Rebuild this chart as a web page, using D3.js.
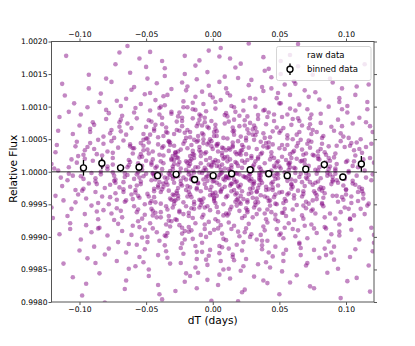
<!DOCTYPE html>
<html>
<head>
<meta charset="utf-8">
<script src="https://cdn.jsdelivr.net/npm/d3@7"></script>
<style>body{margin:0;background:#fff}</style>
</head>
<body>
<svg id="chart"></svg>
<script>
// raw data: dT in units of 0.001 day, flux offset from 1 in units of 1e-5
const rawT = [
-121,-118,-115,-112,-119,-116,-113,-110,-120,-117,-114,-111,-121,-118,-115,-112,-116,-113,
-109,-106,-103,-100,-108,-105,-102,-107,-104,-101,-109,-106,-103,-100,-108,-105,-102,-107,-104,-101,-105,-103,-108,
-99,-96,-93,-90,-98,-95,-92,-97,-94,-91,-99,-96,-93,-90,-98,-95,-92,-97,-94,-91,-96,-93,-99,-91,-94,-97,-92,-95,-98,
-89,-86,-83,-80,-88,-85,-82,-87,-84,-81,-89,-86,-83,-80,-88,-85,-82,-87,-84,-81,-89,-86,-83,-80,-88,-85,-82,-87,-84,-81,-86,-83,-88,
-79,-76,-73,-70,-78,-75,-72,-77,-74,-71,-79,-76,-73,-70,-78,-75,-72,-77,-74,-71,-79,-76,-73,-70,-78,-75,-72,-77,-74,-71,-79,-76,-73,-70,-78,-75,-72,-74,
-69,-66,-63,-60,-68,-65,-62,-67,-64,-61,-69,-66,-63,-60,-68,-65,-62,-67,-64,-61,-69,-66,-63,-60,-68,-65,-62,-67,-64,-61,-69,-66,-63,-60,-68,-65,-62,-67,-64,-61,-65,-62,
-59,-56,-53,-50,-58,-55,-52,-57,-54,-51,-59,-56,-53,-50,-58,-55,-52,-57,-54,-51,-59,-56,-53,-50,-58,-55,-52,-57,-54,-51,-59,-56,-53,-50,-58,-55,-52,-57,-54,-51,-59,-56,-53,-50,-58,-55,-52,-57,-54,-51,-55,-52,
-49,-46,-43,-40,-48,-45,-42,-47,-44,-41,-49,-46,-43,-40,-48,-45,-42,-47,-44,-41,-49,-46,-43,-40,-48,-45,-42,-47,-44,-41,-49,-46,-43,-40,-48,-45,-42,-47,-44,-41,-49,-46,-43,-40,-48,-45,-42,-47,-44,-41,-49,-46,-43,-40,-48,-45,-42,-47,-44,-41,-45,
-39,-36,-33,-30,-38,-35,-32,-37,-34,-31,-39,-36,-33,-30,-38,-35,-32,-37,-34,-31,-39,-36,-33,-30,-38,-35,-32,-37,-34,-31,-39,-36,-33,-30,-38,-35,-32,-37,-34,-31,-39,-36,-33,-30,-38,-35,-32,-37,-34,-31,-39,-36,-33,-30,-38,-35,-32,-37,-34,-31,-39,-36,-33,-30,-38,-35,-32,-37,-34,-31,
-29,-26,-23,-20,-28,-25,-22,-27,-24,-21,-29,-26,-23,-20,-28,-25,-22,-27,-24,-21,-29,-26,-23,-20,-28,-25,-22,-27,-24,-21,-29,-26,-23,-20,-28,-25,-22,-27,-24,-21,-29,-26,-23,-20,-28,-25,-22,-27,-24,-21,-29,-26,-23,-20,-28,-25,-22,-27,-24,-21,-29,-26,-23,-20,-28,-25,-22,-27,-24,-21,-29,-26,-23,-20,-28,
-19,-16,-13,-10,-18,-15,-12,-17,-14,-11,-19,-16,-13,-10,-18,-15,-12,-17,-14,-11,-19,-16,-13,-10,-18,-15,-12,-17,-14,-11,-19,-16,-13,-10,-18,-15,-12,-17,-14,-11,-19,-16,-13,-10,-18,-15,-12,-17,-14,-11,-19,-16,-13,-10,-18,-15,-12,-17,-14,-11,-19,-16,-13,-10,-18,-15,-12,-17,-14,-11,-19,-16,-13,-10,-18,-15,-12,-17,-14,
-9,-6,-3,0,-8,-5,-2,-7,-4,-1,-9,-6,-3,0,-8,-5,-2,-7,-4,-1,-9,-6,-3,0,-8,-5,-2,-7,-4,-1,-9,-6,-3,0,-8,-5,-2,-7,-4,-1,-9,-6,-3,0,-8,-5,-2,-7,-4,-1,-9,-6,-3,0,-8,-5,-2,-7,-4,-1,-9,-6,-3,0,-8,-5,-2,-7,-4,-1,-9,-6,-3,-8,-5,-2,-7,-4,-1,
1,4,7,10,2,5,8,3,6,9,1,4,7,10,2,5,8,3,6,9,1,4,7,10,2,5,8,3,6,9,1,4,7,10,2,5,8,3,6,9,1,4,7,10,2,5,8,3,6,9,1,4,7,10,2,5,8,3,6,9,1,4,7,10,2,5,8,3,6,9,1,4,7,10,2,5,8,3,6,
11,14,17,20,12,15,18,13,16,19,11,14,17,20,12,15,18,13,16,19,11,14,17,20,12,15,18,13,16,19,11,14,17,20,12,15,18,13,16,19,11,14,17,20,12,15,18,13,16,19,11,14,17,20,12,15,18,13,16,19,11,14,17,20,12,15,18,13,16,19,11,14,17,20,12,15,18,13,16,
21,24,27,30,22,25,28,23,26,29,21,24,27,30,22,25,28,23,26,29,21,24,27,30,22,25,28,23,26,29,21,24,27,30,22,25,28,23,26,29,21,24,27,30,22,25,28,23,26,29,21,24,27,30,22,25,28,23,26,29,21,24,27,30,22,25,28,23,26,29,21,24,27,30,22,
31,34,37,40,32,35,38,33,36,39,31,34,37,40,32,35,38,33,36,39,31,34,37,40,32,35,38,33,36,39,31,34,37,40,32,35,38,33,36,39,31,34,37,40,32,35,38,33,36,39,31,34,37,40,32,35,38,33,36,39,31,34,37,40,32,35,38,33,36,39,
41,44,47,50,42,45,48,43,46,49,41,44,47,50,42,45,48,43,46,49,41,44,47,50,42,45,48,43,46,49,41,44,47,50,42,45,48,43,46,49,41,44,47,50,42,45,48,43,46,49,41,44,47,50,42,45,48,43,46,49,41,44,47,50,42,
51,54,57,60,52,55,58,53,56,59,51,54,57,60,52,55,58,53,56,59,51,54,57,60,52,55,58,53,56,59,51,54,57,60,52,55,58,53,56,59,51,54,57,60,52,55,58,53,56,59,51,54,57,60,52,55,58,53,56,59,55,
61,64,67,70,62,65,68,63,66,69,61,64,67,70,62,65,68,63,66,69,61,64,67,70,62,65,68,63,66,69,61,64,67,70,62,65,68,63,66,69,61,64,67,70,62,65,68,63,66,69,61,64,67,70,62,65,
71,74,77,80,72,75,78,73,76,79,71,74,77,80,72,75,78,73,76,79,71,74,77,80,72,75,78,73,76,79,71,74,77,80,72,75,78,73,76,79,71,74,77,80,72,75,78,73,76,79,75,72,
81,84,87,90,82,85,88,83,86,89,81,84,87,90,82,85,88,83,86,89,81,84,87,90,82,85,88,83,86,89,81,84,87,90,82,85,88,83,86,89,81,84,87,90,82,85,88,
91,94,97,100,92,95,98,93,96,99,91,94,97,100,92,95,98,93,96,99,91,94,97,100,92,95,98,93,96,99,91,94,97,100,92,95,98,93,96,99,95,92,
101,104,107,110,102,105,108,103,106,109,101,104,107,110,102,105,108,103,106,109,101,104,107,110,102,105,108,103,106,109,101,104,107,110,102,105,108,103,
111,114,117,120,112,115,118,113,116,119,121,111,114,117,120,112,115,118,113,116,119,121,111,114,117,120,112,115,118,113,116,119,121
];
const rawF = [
12,-37,84,-141,5,63,-22,178,-71,41,-9,117,-55,30,-96,-44,2,135,-68,19,
-28,71,-3,-162,46,-88,105,24,-13,-57,39,-121,92,-6,14,-79,211,-35,58,-47,
7,-104,33,-18,76,-190,-41,61,26,-133,-2,88,-65,149,17,-29,-82,44,-11,99,
-52,20,128,-7,-93,38,-26,66,-172,3,-115,49,-38,81,-15,107,-59,27,-4,-201,
35,-73,9,143,-31,-86,54,-19,0,-127,72,-48,16,95,-10,-156,43,-61,120,-25,
-87,25,-140,8,64,-33,183,-50,-1,109,-20,-74,37,-98,47,-12,76,-118,21,-43,
59,-6,-108,31,-64,165,-24,90,11,-137,-39,52,-80,4,138,-17,69,-225,29,-56,
-14,101,-46,18,-83,6,-167,42,-31,74,126,-60,-8,-111,36,-91,57,15,-27,193,
-35,80,-2,-149,28,-70,112,-23,48,-5,-97,62,-180,10,-42,86,-124,39,-16,7,
67,-44,152,-11,-76,23,-3,98,-131,40,-62,-19,119,-53,13,-101,51,-32,174,-7,
-21,44,-89,130,-37,3,69,-145,-9,58,-112,27,-50,91,-1,-72,17,205,-40,33,
82,-15,-119,36,-58,9,161,-28,-85,49,-4,104,-66,22,-139,-34,77,-12,-188,45,
-3,-70,121,-26,53,-100,14,-47,88,-160,31,-8,-79,66,-21,143,-57,6,98,-38,
19,-93,57,-6,-128,34,-45,110,-16,79,-67,-2,184,-30,42,-108,11,-63,26,-150,
-60,8,94,-39,-174,51,-13,72,-106,28,-2,136,-48,63,-24,-87,16,-215,47,-11,
37,-53,-5,116,-94,20,-31,159,-68,4,83,-122,41,-18,60,-43,100,-9,-75,24,
-27,68,-141,13,-58,92,-4,-113,46,-35,170,-81,1,55,-20,127,-49,-98,32,-7,
73,-16,-84,39,-132,18,-62,102,-29,8,-196,61,-41,25,-10,89,-70,147,-3,-55,
4,-99,45,-23,118,-76,12,-37,83,-156,30,-1,-65,64,-14,178,-45,21,-110,52,
-44,15,-126,77,-19,-91,40,-7,137,-53,26,-82,99,-33,5,-169,58,-25,70,-12,
29,-60,108,-2,-117,47,-36,85,-21,16,-183,63,-9,-74,34,150,-50,11,-95,-28,
-8,91,-47,22,-140,60,-17,31,-86,125,-5,-62,43,-30,207,-104,18,-41,78,3,
-73,36,-12,163,-55,9,-103,70,-24,49,-155,14,-39,95,-1,-68,27,-134,53,-15,
48,-22,-90,115,-43,0,82,-179,24,-57,7,131,-11,-79,38,-31,96,-123,17,-46,
-17,64,-6,-147,33,-85,106,-27,12,-50,74,-208,41,-13,88,-63,2,142,-35,21,
55,-38,19,-114,80,-4,-71,46,-160,26,-18,99,-56,7,171,-92,32,-25,61,-1,
-30,76,-129,15,-47,3,118,-66,42,-10,-97,28,186,-36,59,-8,-120,44,-53,10,
86,-19,-77,35,-2,-135,50,-41,153,-23,13,-88,67,-6,-109,30,-59,104,-14,39,
-51,6,132,-33,71,-100,21,-12,-166,47,-44,83,-3,114,-70,18,-28,57,-143,8,
24,-81,45,-15,-123,93,-36,2,69,-198,30,-55,11,123,-25,-94,50,-7,78,-40,
-9,37,-64,107,-20,-150,55,-3,87,-42,16,-116,33,-73,177,-11,62,-31,5,-89,
43,-26,-105,18,138,-50,9,-82,74,-14,-174,29,-39,97,-5,-67,40,-137,22,61,
-62,11,90,-32,-125,52,-17,3,146,-45,-87,25,-8,72,-114,36,-54,190,-23,14,
31,-95,-7,66,-158,20,-37,110,-13,55,-76,-1,128,-48,8,-103,42,-29,85,-19,
-35,70,-10,-131,27,-58,99,-22,16,-88,160,-4,-64,38,-43,117,-12,-199,51,6,
15,-47,77,-6,-112,34,-28,144,-67,10,-16,86,-149,45,-33,1,63,-92,23,-54,
92,-24,-78,40,-3,-164,57,-41,121,-18,30,-99,4,68,-52,19,-136,47,-9,-30,
-46,28,-118,62,-15,174,-83,9,-37,101,-2,-60,36,-127,13,-21,80,-49,212,-6,
3,-71,48,-26,-145,85,-11,32,-93,133,-40,17,-56,0,-108,65,-32,26,-181,59,
-19,41,-87,113,-7,-59,24,-152,71,-34,8,-121,52,-14,94,-44,2,166,-68,37,
65,-30,-9,-100,38,-47,141,-20,14,-80,57,-185,27,-4,109,-62,21,-37,79,-12,
-25,6,-134,75,-42,18,-96,54,-8,197,-70,33,-18,87,-113,44,-51,-2,124,-31,
46,-64,11,-142,29,-23,100,-5,-84,61,-36,155,-15,20,-106,73,-47,7,-167,35,
-6,95,-55,22,-119,-28,67,-12,176,-41,4,-90,49,-25,130,-73,16,-9,59,-104,
27,-38,-161,81,-17,-1,112,-58,39,-30,-97,13,71,-47,0,-139,56,-20,94,-65,
-13,52,-78,145,-35,8,-124,42,-50,19,88,-10,-171,30,-66,105,-27,62,-3,-44,
78,-21,-106,2,-49,36,158,-16,-88,53,-6,121,-40,24,-73,-32,91,-130,14,-1,
-39,16,-58,128,-11,-97,45,-28,68,-147,21,-4,84,-62,7,-188,38,-24,113,-52,
9,-76,37,-18,-115,60,-45,5,134,-33,81,-63,-7,27,-102,51,-20,170,-86,13,
-58,23,-8,97,-137,41,-26,63,-1,-79,30,-153,18,118,-48,-14,72,-95,35,-4,
50,-31,-120,14,-63,88,-19,150,-42,3,-88,41,-6,-170,67,-35,21,105,-57,11,
-23,84,-45,7,-126,56,-12,-68,32,162,-38,-2,94,-109,26,-51,16,-83,139,-29,
34,-9,-99,61,-52,20,-3,125,-74,44,-16,-144,5,78,-30,57,-117,12,-41,196,
-67,28,-14,103,-34,-159,49,-22,6,-90,71,-46,135,-8,-72,39,-128,18,-36,82,
17,-56,-2,-111,43,-81,122,-27,9,64,-36,-176,25,-15,96,-60,3,-132,48,-20,
-42,73,-120,31,-11,88,-64,19,-5,149,-94,37,-30,2,-102,58,-17,111,-49,26,
61,-16,-87,24,-140,46,-33,7,115,-58,-3,82,-179,20,-44,67,-24,-118,39,-8,
-29,12,143,-53,-1,-96,35,-70,100,-13,52,-128,17,-40,221,-19,75,-85,4,-37,
43,-87,8,-25,-155,69,-10,30,-107,137,-48,14,-64,55,-6,-124,89,-33,21,-15,
-50,26,-4,-135,80,-39,15,-72,107,-21,40,-194,-8,63,-46,128,-27,2,-98,54,
12,-62,38,-115,-17,96,-35,5,-81,160,-13,47,-55,22,-149,70,-28,-3,113,-43,
-37,59,-11,-92,28,-168,44,-20,83,-57,9,131,-72,16,-31,101,-48,-119,35,1,
74,-6,-131,33,-45,17,-89,118,-24,52,-14,-163,40,-67,7,91,-38,25,-104,-1,
-18,45,-73,8,165,-49,-122,29,-9,70,-34,107,-86,14,-57,2,-144,61,-26,38,
21,-41,96,-13,-109,50,-65,134,-4,-30,76,-184,19,-52,43,-97,10,154,-21,-33
];

// binned data
const binT = [-0.0970,-0.0832,-0.0692,-0.0553,-0.0414,-0.0275,-0.0136,0.0003,0.0142,0.0281,0.0420,0.0559,0.0698,0.0837,0.0976,0.1115];
const binF = [1.00006,1.00013,1.00006,1.00007,0.99994,0.99996,0.99988,0.99994,0.99997,1.00003,0.99997,0.99994,1.00004,1.00011,0.99992,1.00012];
const binErr = [0.00012,0.00009,0.00006,0.00006,0.00005,0.00005,0.00005,0.00005,0.00005,0.00005,0.00005,0.00005,0.00005,0.00006,0.00005,0.00012];

const xTicks = [-0.10,-0.05,0.00,0.05,0.10];
const yTicks = [0.9980,0.9985,0.9990,0.9995,1.0000,1.0005,1.0010,1.0015,1.0020];
const legendLabels = ["raw data","binned data"];

const width = 415, height = 346;
const mLeft = 51.5, mRight = 374, mTop = 41.5, mBottom = 302;
const font = "DejaVu Sans, sans-serif";
const purple = "#800080";

const raw = [];
const n = Math.min(rawT.length, rawF.length);
for (let i = 0; i < n; i++) raw.push({t: rawT[i] / 1000, f: 1 + rawF[i] / 1e5});
const bins = binT.map((t, i) => ({t: t, f: binF[i], e: binErr[i]}));

const x = d3.scaleLinear().domain([-0.121, 0.121]).range([mLeft, mRight]);
const y = d3.scaleLinear().domain([0.998, 1.002]).range([mBottom, mTop]);

const svg = d3.select("#chart").attr("width", width).attr("height", height);

svg.append("clipPath").attr("id", "plotclip")
  .append("rect").attr("x", mLeft).attr("y", mTop)
  .attr("width", mRight - mLeft).attr("height", mBottom - mTop);

// raw data points
svg.append("g").attr("clip-path", "url(#plotclip)")
  .selectAll("circle")
  .data(raw)
  .enter()
  .append("circle")
  .attr("cx", d => x(d.t))
  .attr("cy", d => y(d.f))
  .attr("r", 2.3)
  .attr("fill", purple)
  .attr("fill-opacity", 0.47);

// line at 1.0
svg.append("line")
  .attr("x1", mLeft).attr("x2", mRight)
  .attr("y1", y(1)).attr("y2", y(1))
  .attr("stroke", "#000").attr("stroke-opacity", 0.55).attr("stroke-width", 1.4);

// binned points with error bars
const bg = svg.append("g");
bg.selectAll("line")
  .data(bins)
  .enter()
  .append("line")
  .attr("x1", d => x(d.t)).attr("x2", d => x(d.t))
  .attr("y1", d => y(d.f - d.e)).attr("y2", d => y(d.f + d.e))
  .attr("stroke", "#000").attr("stroke-width", 1.3);
bg.selectAll("circle")
  .data(bins)
  .enter()
  .append("circle")
  .attr("cx", d => x(d.t))
  .attr("cy", d => y(d.f))
  .attr("r", 3)
  .attr("fill", "#fff")
  .attr("stroke", "#000")
  .attr("stroke-width", 1.4);

// axes
function styleAxis(g) {
  g.select(".domain").remove();
  g.selectAll(".tick line").attr("stroke", "#444").attr("stroke-width", 0.9);
  g.selectAll("text").attr("font-family", font).attr("font-size", 7.6).attr("fill", "#000");
}
const fmtX = d3.format(".2f"), fmtY = d3.format(".4f");

svg.append("g").attr("transform", `translate(0,${mBottom})`)
  .call(d3.axisBottom(x).tickValues(xTicks).tickFormat(fmtX).tickSize(3).tickPadding(2))
  .call(styleAxis);
svg.append("g").attr("transform", `translate(0,${mTop})`)
  .call(d3.axisTop(x).tickValues(xTicks).tickFormat(fmtX).tickSize(3).tickPadding(1.5))
  .call(styleAxis);
svg.append("g").attr("transform", `translate(${mLeft},0)`)
  .call(d3.axisLeft(y).tickValues(yTicks).tickFormat(fmtY).tickSize(3).tickPadding(1))
  .call(styleAxis);
svg.append("g").attr("transform", `translate(${mRight},0)`)
  .call(d3.axisRight(y).tickValues(yTicks).tickFormat("").tickSize(3))
  .call(styleAxis);

// spines
svg.append("rect")
  .attr("x", mLeft).attr("y", mTop)
  .attr("width", mRight - mLeft).attr("height", mBottom - mTop)
  .attr("fill", "none").attr("stroke", "#555").attr("stroke-width", 1);

// axis labels
svg.append("text")
  .attr("x", (mLeft + mRight) / 2).attr("y", 324)
  .attr("text-anchor", "middle")
  .attr("font-family", font).attr("font-size", 10.6).attr("fill", "#000")
  .text("dT (days)");
svg.append("text")
  .attr("transform", `translate(17,${(mTop + mBottom) / 2 - 3}) rotate(-90)`)
  .attr("text-anchor", "middle")
  .attr("font-family", font).attr("font-size", 10.6).attr("fill", "#000")
  .text("Relative Flux");

// legend
const lg = svg.append("g");
lg.append("rect")
  .attr("x", 276.5).attr("y", 46.5).attr("width", 94.5).attr("height", 34).attr("rx", 2)
  .attr("fill", "#fff").attr("fill-opacity", 0.8)
  .attr("stroke", "#ccc").attr("stroke-width", 0.8);
lg.append("circle")
  .attr("cx", 290).attr("cy", 55).attr("r", 2.3)
  .attr("fill", purple).attr("fill-opacity", 0.1);
lg.append("line")
  .attr("x1", 290).attr("x2", 290).attr("y1", 63.5).attr("y2", 75)
  .attr("stroke", "#000").attr("stroke-width", 1.3);
lg.append("circle")
  .attr("cx", 290).attr("cy", 69.3).attr("r", 3)
  .attr("fill", "#fff").attr("stroke", "#000").attr("stroke-width", 1.4);
lg.selectAll("text.lab")
  .data(legendLabels)
  .enter()
  .append("text")
  .attr("class", "lab")
  .attr("x", 307)
  .attr("y", (d, i) => 58.2 + i * 14.2)
  .attr("font-family", font).attr("font-size", 8.5).attr("fill", "#000")
  .text(d => d);
</script>
</body>
</html>
